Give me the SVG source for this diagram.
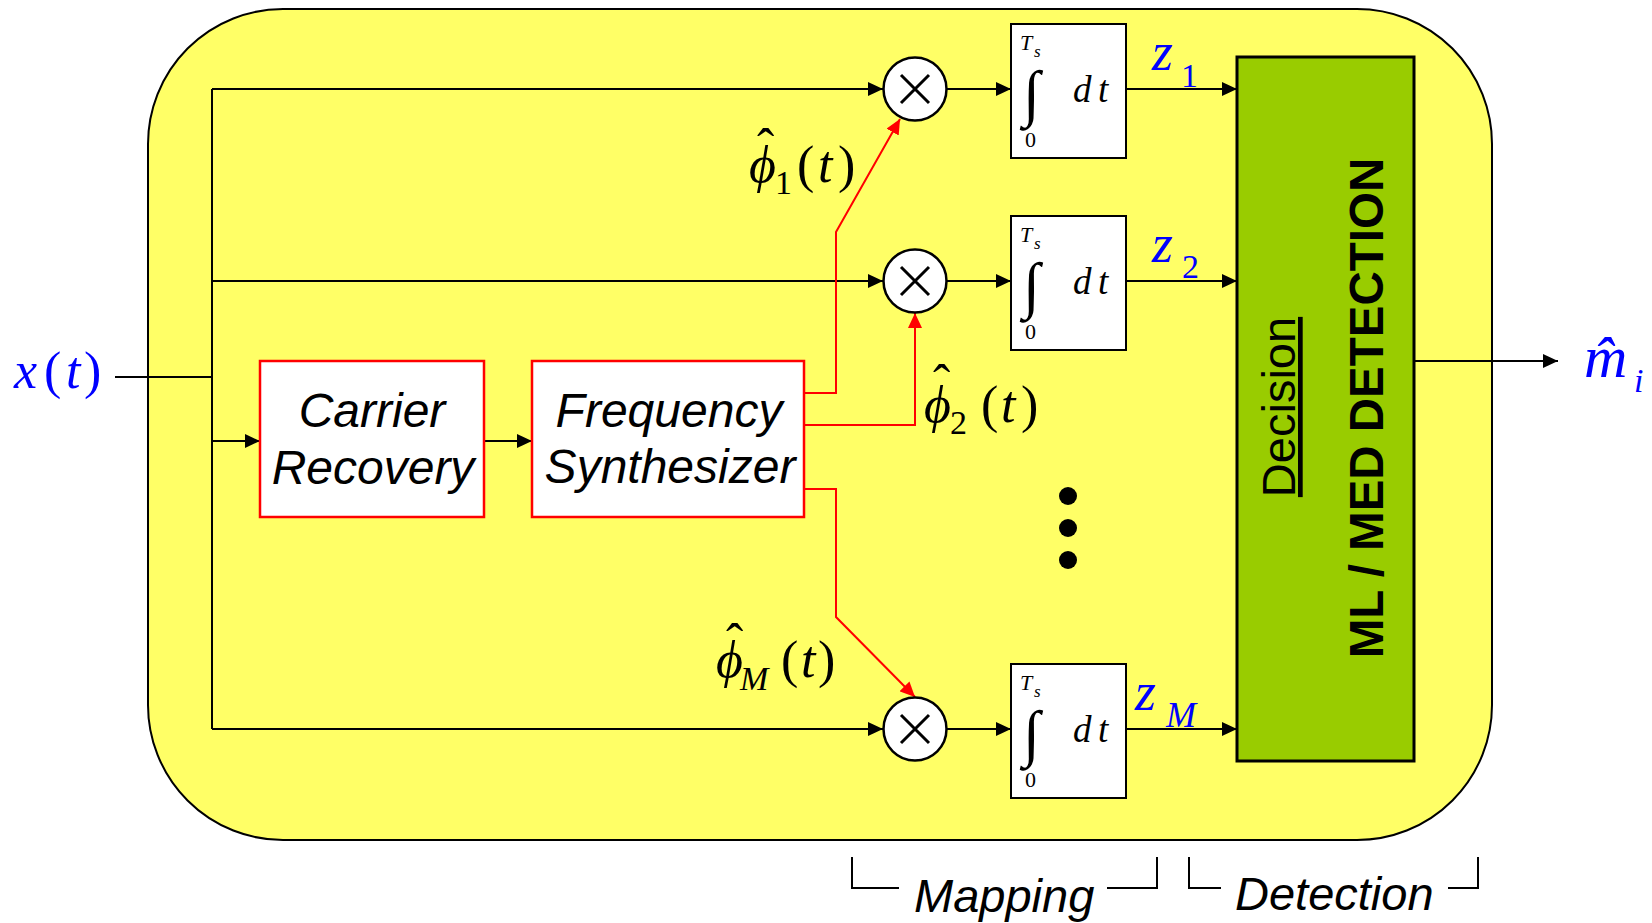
<svg xmlns="http://www.w3.org/2000/svg" width="1652" height="923" viewBox="0 0 1652 923">
<defs>
<style>
.ln{stroke:#000;stroke-width:2;fill:none}
.rd{stroke:#f00;stroke-width:2;fill:none}
.bx{fill:#fff;stroke:#000;stroke-width:2}
.rbx{fill:#fff;stroke:#f00;stroke-width:2.5}
.mul{fill:#fff;stroke:#000;stroke-width:2.5}
.x{stroke:#000;stroke-width:3;fill:none}
.m{font-family:"Liberation Serif","Times New Roman","DejaVu Serif",serif}
.i{font-style:italic}
.b{fill:#0000ff}
.s{font-family:"Liberation Sans",Arial,sans-serif}
.blk{font-size:48px;font-style:italic;text-anchor:middle}
</style>
<marker id="ah" markerUnits="userSpaceOnUse" markerWidth="16" markerHeight="14" refX="15" refY="7" orient="auto"><path d="M0,0 L15,7 L0,14 z" fill="#000"/></marker>
<marker id="ahr" markerUnits="userSpaceOnUse" markerWidth="16" markerHeight="14" refX="15" refY="7" orient="auto"><path d="M0,0 L15,7 L0,14 z" fill="#f00"/></marker>
</defs>
<rect width="1652" height="923" fill="#fff"/>
<g id="outer"><rect x="148" y="9" width="1344" height="831" rx="135" ry="135" fill="#ffff66" stroke="#000" stroke-width="2"/></g>

<g id="connectors">
<path class="ln" d="M115,377 H212"/>
<path class="ln" d="M212,89 V729"/>
<path class="ln" d="M212,89 H883" marker-end="url(#ah)"/>
<path class="ln" d="M212,281 H883" marker-end="url(#ah)"/>
<path class="ln" d="M212,729 H883" marker-end="url(#ah)"/>
<path class="ln" d="M212,441 H260" marker-end="url(#ah)"/>
<path class="ln" d="M484,441 H532" marker-end="url(#ah)"/>
<path class="ln" d="M946,89 H1011" marker-end="url(#ah)"/>
<path class="ln" d="M946,281 H1011" marker-end="url(#ah)"/>
<path class="ln" d="M946,729 H1011" marker-end="url(#ah)"/>
<path class="ln" d="M1126,89 H1237" marker-end="url(#ah)"/>
<path class="ln" d="M1126,281 H1237" marker-end="url(#ah)"/>
<path class="ln" d="M1126,729 H1237" marker-end="url(#ah)"/>
<path class="ln" d="M1414,361 H1558" marker-end="url(#ah)"/>
<path class="rd" d="M804,393 H836 V232 L900,119" marker-end="url(#ahr)"/>
<path class="rd" d="M804,425 H915 V313" marker-end="url(#ahr)"/>
<path class="rd" d="M804,489 H836 V617 L915,697" marker-end="url(#ahr)"/>
</g>

<g id="carrier-recovery">
<rect class="rbx" x="260" y="361" width="224" height="156"/>
<text class="s blk" x="372" y="427">Carrier</text>
<text class="s blk" x="373" y="484">Recovery</text>
</g>
<g id="frequency-synthesizer">
<rect class="rbx" x="532" y="361" width="272" height="156"/>
<text class="s blk" x="669" y="427">Frequency</text>
<text class="s blk" x="670" y="483">Synthesizer</text>
</g>

<g id="mult1"><circle class="mul" cx="915" cy="89" r="31.5"/><path class="x" d="M901,75 L929,103 M929,75 L901,103"/></g>
<g id="mult2"><circle class="mul" cx="915" cy="281" r="31.5"/><path class="x" d="M901,267 L929,295 M929,267 L901,295"/></g>
<g id="multM"><circle class="mul" cx="915" cy="729" r="31.5"/><path class="x" d="M901,715 L929,743 M929,715 L901,743"/></g>

<g id="int1" transform="translate(1011,24)">
<rect class="bx" x="0" y="0" width="115" height="134"/>
<text class="m i" x="9" y="26" font-size="22">T</text><text class="m i" x="23" y="33" font-size="17">s</text>
<text class="m" x="12" y="90" font-size="62">∫</text>
<text class="m" x="14" y="123" font-size="22">0</text>
<text class="m i" x="62" y="78" font-size="37">d</text><text class="m i" x="87" y="78" font-size="37">t</text>
</g>
<g id="int2" transform="translate(1011,216)">
<rect class="bx" x="0" y="0" width="115" height="134"/>
<text class="m i" x="9" y="26" font-size="22">T</text><text class="m i" x="23" y="33" font-size="17">s</text>
<text class="m" x="12" y="90" font-size="62">∫</text>
<text class="m" x="14" y="123" font-size="22">0</text>
<text class="m i" x="62" y="78" font-size="37">d</text><text class="m i" x="87" y="78" font-size="37">t</text>
</g>
<g id="intM" transform="translate(1011,664)">
<rect class="bx" x="0" y="0" width="115" height="134"/>
<text class="m i" x="9" y="26" font-size="22">T</text><text class="m i" x="23" y="33" font-size="17">s</text>
<text class="m" x="12" y="90" font-size="62">∫</text>
<text class="m" x="14" y="123" font-size="22">0</text>
<text class="m i" x="62" y="78" font-size="37">d</text><text class="m i" x="87" y="78" font-size="37">t</text>
</g>

<g id="decision">
<rect x="1237" y="57" width="177" height="704" fill="#99cc00" stroke="#000" stroke-width="3"/>
<text class="s" transform="translate(1295,407) rotate(-90)" text-anchor="middle" font-size="47" text-decoration="underline">Decision</text>
<text class="s" transform="translate(1383,408) rotate(-90)" text-anchor="middle" font-size="47.5" font-weight="bold">ML / MED DETECTION</text>
</g>

<g id="dots"><circle cx="1068" cy="496" r="9"/><circle cx="1068" cy="528" r="9"/><circle cx="1068" cy="560" r="9"/></g>

<g id="labels">
<text class="m b" font-size="52" y="388"><tspan class="i" x="14">x</tspan><tspan x="44">(</tspan><tspan class="i" x="66">t</tspan><tspan x="84">)</tspan></text>
<text class="m" font-size="52" y="182"><tspan class="i" x="749">ϕ</tspan><tspan x="757" y="165">ˆ</tspan><tspan x="775" y="194" font-size="34">1</tspan><tspan x="797" y="182">(</tspan><tspan class="i" x="818">t</tspan><tspan x="838">)</tspan></text>
<text class="m" font-size="52" y="422"><tspan class="i" x="924">ϕ</tspan><tspan x="933" y="401">ˆ</tspan><tspan x="950" y="434" font-size="34">2</tspan><tspan x="981" y="422">(</tspan><tspan class="i" x="1001">t</tspan><tspan x="1021">)</tspan></text>
<text class="m" font-size="52" y="677"><tspan class="i" x="716">ϕ</tspan><tspan x="726" y="660">ˆ</tspan><tspan class="i" x="740" y="690" font-size="34">M</tspan><tspan x="781" y="677">(</tspan><tspan class="i" x="801">t</tspan><tspan x="818">)</tspan></text>
<text class="m b" y="70"><tspan class="i" x="1152" font-size="54">z</tspan><tspan x="1181" y="87" font-size="34">1</tspan></text>
<text class="m b" y="262"><tspan class="i" x="1152" font-size="54">z</tspan><tspan x="1182" y="278" font-size="34">2</tspan></text>
<text class="m b" y="710"><tspan class="i" x="1135" font-size="54">z</tspan><tspan class="i" x="1166" y="727" font-size="36">M</tspan></text>
<text class="m b" y="377"><tspan class="i" x="1584" font-size="60">m̂</tspan><tspan class="i" x="1634" y="392" font-size="34">i</tspan></text>
</g>

<g id="brackets">
<path class="ln" d="M852,857 V888 H899"/>
<path class="ln" d="M1107,888 H1157 V857"/>
<path class="ln" d="M1189,857 V888 H1221"/>
<path class="ln" d="M1448,888 H1478 V857"/>
<text class="s i" x="914" y="912" font-size="47">Mapping</text>
<text class="s i" x="1235" y="910" font-size="47">Detection</text>
</g>
</svg>
